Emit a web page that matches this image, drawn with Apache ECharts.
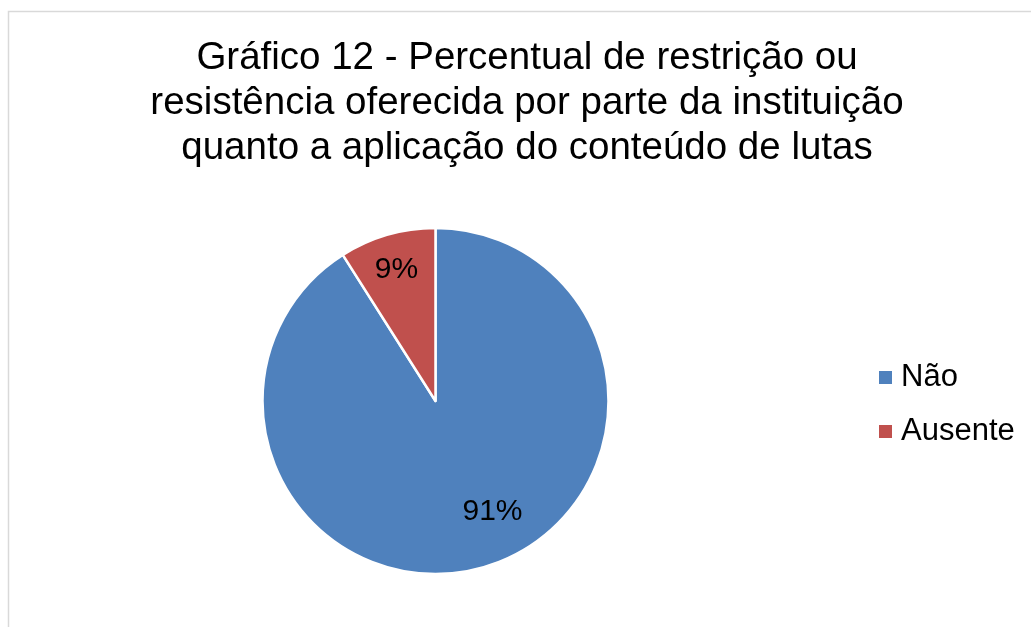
<!DOCTYPE html>
<html>
<head>
<meta charset="utf-8">
<script src="https://cdn.jsdelivr.net/npm/echarts@6/dist/echarts.min.js"></script>
<style>
html,body{margin:0;padding:0;background:#fff;}
#chart{width:1031px;height:627px;}
</style>
</head>
<body>
<div id="chart"></div>
<script>
const titleText = 'Gráfico 12 - Percentual de restrição ou\nresistência oferecida por parte da instituição\nquanto a aplicação do conteúdo de lutas';
const categories = ['Não', 'Ausente'];
const values = [91, 9];
const colors = ['#4F81BD', '#C0504D'];
const labelShift = [[32, 25], [-14, -45]];

const chart = echarts.init(document.getElementById('chart'));
chart.setOption({
  animation: false,
  backgroundColor: '#ffffff',
  graphic: [{
    type: 'rect',
    shape: { x: 8.5, y: 11.5, width: 1200, height: 800 },
    style: { fill: 'none', stroke: '#d9d9d9', lineWidth: 1.5 },
    silent: true
  }],
  title: {
    text: titleText,
    left: 522,
    textAlign: 'center',
    top: 31,
    textStyle: {
      fontFamily: 'Liberation Sans, Arial, sans-serif',
      fontSize: 38.5,
      fontWeight: 'normal',
      color: '#000',
      lineHeight: 45
    }
  },
  legend: {
    orient: 'vertical',
    left: 877,
    top: 362,
    padding: 0,
    icon: 'rect',
    itemWidth: 15,
    itemHeight: 15,
    itemGap: 23,
    data: categories,
    textStyle: {
      fontFamily: 'Liberation Sans, Arial, sans-serif',
      fontSize: 31,
      lineHeight: 31,
      color: '#000',
      padding: [0, 0, 0, 3]
    }
  },
  series: [{
    type: 'pie',
    center: [435.5, 401],
    radius: 173,
    startAngle: 90,
    clockwise: true,
    silent: true,
    emphasis: { disabled: true },
    itemStyle: { borderColor: '#ffffff', borderWidth: 2.5 },
    label: {
      show: true,
      position: 'inner',
      formatter: '{c}%',
      fontFamily: 'Liberation Sans, Arial, sans-serif',
      fontSize: 30,
      color: '#000'
    },
    labelLine: { show: false },
    labelLayout: function (p) {
      return { dx: labelShift[p.dataIndex][0], dy: labelShift[p.dataIndex][1] };
    },
    data: categories.map((c, i) => ({ name: c, value: values[i], itemStyle: { color: colors[i] } }))
  }]
});
</script>
</body>
</html>
